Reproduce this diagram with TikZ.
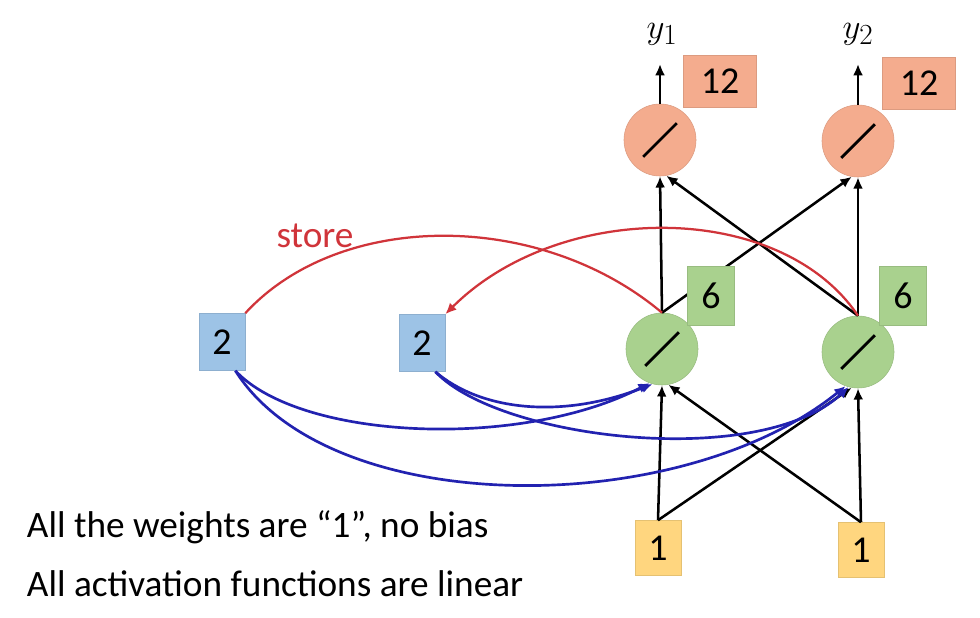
\documentclass[tikz,border=0pt]{standalone}
\usepackage{fontspec}
\setmainfont{Carlito}
\usetikzlibrary{arrows.meta}

\definecolor{outfill}{HTML}{F4AC8E}
\definecolor{hidfill}{HTML}{A9D18E}
\definecolor{memfill}{HTML}{9DC3E6}
\definecolor{infill}{HTML}{FFD67F}
\definecolor{storered}{HTML}{D0343A}
\definecolor{copyblue}{HTML}{2222B0}

\begin{document}
\begin{tikzpicture}[x=0.025cm, y=-0.025cm,
  neuron/.style={circle, minimum size=1.8cm, inner sep=0pt, fill=#1, draw=#1!90!black,
    path picture={\draw[black, line width=2pt]
      ([shift={(-0.42cm,-0.42cm)}]path picture bounding box.center) --
      ([shift={(0.42cm,0.42cm)}]path picture bounding box.center);}},
  valbox/.style={rectangle, fill=#1, draw=#1!90!black, inner sep=0pt, font=\fontsize{27}{30}\selectfont},
  link/.style={-{Latex[length=8pt,width=7pt]}, line width=1.8pt},
  copyline/.style={-{Latex[length=8pt,width=7pt]}, line width=1.9pt, copyblue},
  storeline/.style={line width=1.6pt, storered},
  note/.style={anchor=base west, font=\fontsize{26.5}{30}\selectfont}]
\useasboundingbox (0,0) rectangle (980,618);
\fill[white] (0,0) rectangle (980,618);

\node[neuron=outfill] (o1) at (660,140) {};
\node[neuron=outfill] (o2) at (858,141) {};
\node[neuron=hidfill] (h1) at (662,349) {};
\node[neuron=hidfill] (h2) at (858,352) {};

\coordinate (t1) at (660,64);
\coordinate (t2) at (858,64);
\draw[link] (o1.north) -- (t1);
\draw[link] (o2.north) -- (t2);
\node[font=\fontsize{28}{30}\selectfont] (y1) at (662,34) {$y_1$};
\node[font=\fontsize{28}{30}\selectfont] (y2) at (858,34) {$y_2$};

\foreach \a/\b in {h1.north/o1.south, h1.north/o2.-100, h2.north/o2.south, h2.north/o1.-80}
  \draw[link] (\a) -- (\b);

\node[valbox=infill, minimum width=1.15cm, minimum height=1.375cm] (x1) at (658,548) {1};
\node[valbox=infill, minimum width=1.15cm, minimum height=1.375cm] (x2) at (861,550) {1};
\foreach \a/\b in {x1.north/h1.south, x1.north/h2.-100, x2.north/h2.south, x2.north/h1.-80}
  \draw[link] (\a) -- (\b);

\node[valbox=memfill, minimum width=1.15cm, minimum height=1.425cm] (m1) at (222,342) {2};
\node[valbox=memfill, minimum width=1.15cm, minimum height=1.425cm] (m2) at (422,343) {2};

\draw[storeline] (h1.north) .. controls (540,210) and (340,210) .. (m1.north east);
\draw[storeline, -{Latex[length=8pt,width=7pt]}] (h2.north) .. controls (780,200) and (560,200) .. (m2.north east);
\node[text=storered, font=\fontsize{26.5}{30}\selectfont] (lbl) at (315,236) {store};

\draw[copyline] (m1.-65) .. controls (300,440) and (520,450) .. (h1.-110);
\draw[copyline] (m1.-65) .. controls (330,520) and (680,520) .. (h2.-110);
\draw[copyline] (m2.-65) .. controls (480,410) and (560,420) .. (h1.-105);
\draw[copyline] (m2.-65) .. controls (500,440) and (760,470) .. (h2.-105);

\node[valbox=outfill, minimum width=1.825cm, minimum height=1.3cm] (s1) at (720,81) {12};
\node[valbox=outfill, minimum width=1.825cm, minimum height=1.3cm] (s2) at (919,83) {12};
\node[valbox=hidfill, minimum width=1.175cm, minimum height=1.475cm] (g1) at (711,296) {6};
\node[valbox=hidfill, minimum width=1.175cm, minimum height=1.475cm] (g2) at (903,296) {6};

\node[note] (n1) at (22,537) {All the weights are “1”, no bias};
\node[note] (n2) at (22,596) {All activation functions are linear};
\end{tikzpicture}
\end{document}
